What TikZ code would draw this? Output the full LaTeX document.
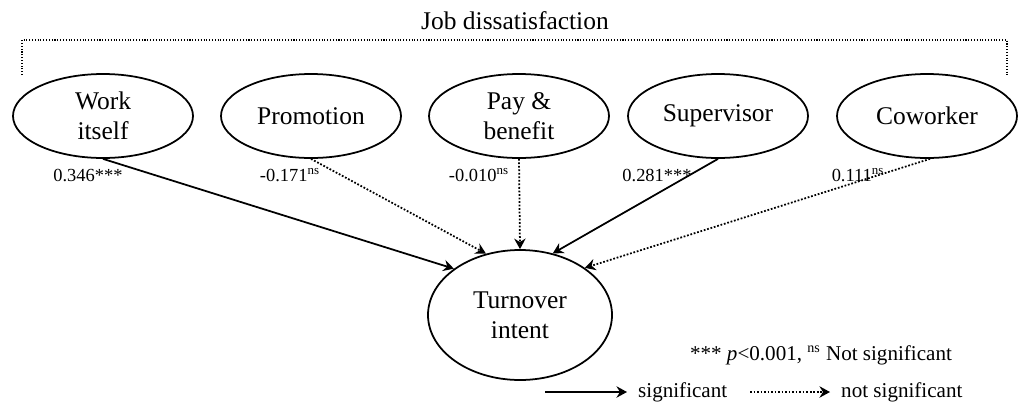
\documentclass[tikz,border=0pt]{standalone}
\usepackage{fontspec}
\setmainfont{Liberation Serif}
\usetikzlibrary{arrows.meta,shapes.geometric}
\tikzset{
  factor/.style={draw, ellipse, line width=1pt, inner sep=0pt, align=center,
    minimum width=3.6cm, minimum height=1.68cm, font=\fontsize{14.5}{17}\selectfont},
  coef/.style={font=\fontsize{10.5}{12}\selectfont},
  legend/.style={font=\fontsize{12}{14}\selectfont},
  sigpath/.style={-{Stealth[length=6pt,width=6.5pt,inset=2pt]}, line width=1pt},
  nspath/.style={-{Stealth[length=6pt,width=6.5pt,inset=2pt]}, line width=1pt, densely dotted},
}

\begin{document}
\begin{tikzpicture}[x=0.2mm, y=-0.2mm]
\useasboundingbox (0,0) rectangle (1018,409);
% bracket over the five facets
\node[font=\fontsize{14.5}{17}\selectfont] (title) at (515,21) {Job dissatisfaction};
\draw[densely dotted, line width=0.6pt] (22,75) -- (22,40) -- (1007,40) -- (1007,75);
% facets
\node[factor] (work) at (103,116) {Work\\itself};
\node[factor] (promo) at (311,116) {Promotion};
\node[factor] (pay) at (519,116) {Pay \&\\benefit};
\node[factor] (super) at (718,116) {Supervisor};
\node[factor] (cowork) at (927,116) {Coworker};
% outcome
\node[factor, minimum width=3.68cm, minimum height=2.6cm] (turn) at (520,315) {Turnover\\intent};
% paths
\draw[sigpath] (work.south) -- (turn.145);
\draw[nspath] (promo.south) -- (turn.119);
\draw[nspath] (pay.south) -- (turn.90);
\draw[sigpath] (super.south) -- (turn.62);
\draw[nspath] (cowork.-86) -- (turn.36);
% coefficients
\node[coef] (c1) at (88,175) {0.346***};
\node[coef] (c2) at (290,175) {-0.171\textsuperscript{ns}};
\node[coef] (c3) at (479,175) {-0.010\textsuperscript{ns}};
\node[coef] (c4) at (657,175) {0.281***};
\node[coef] (c5) at (858,175) {0.111\textsuperscript{ns}};
% legend
\node[legend] (note) at (821,355) {*** \textit{p}<0.001, \textsuperscript{ns} Not significant};
\coordinate (s1) at (545,392);
\coordinate (s2) at (627,392);
\coordinate (n1) at (750,392);
\coordinate (n2) at (830,392);
\draw[sigpath] (s1) -- (s2);
\node[legend, anchor=west] (sigtext) at (632,392) {significant};
\draw[nspath] (n1) -- (n2);
\node[legend, anchor=west] (nstext) at (835,392) {not significant};
\end{tikzpicture}
\end{document}
